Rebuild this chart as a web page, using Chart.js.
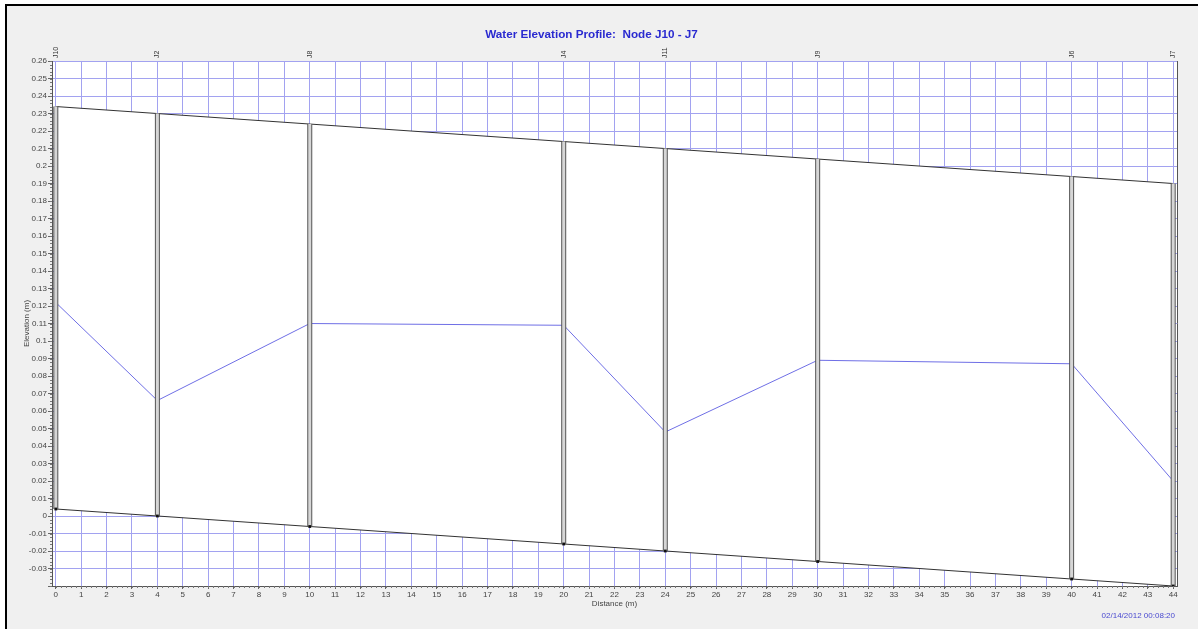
<!DOCTYPE html>
<html>
<head>
<meta charset="utf-8">
<script src="https://cdn.jsdelivr.net/npm/chart.js@4.4.1/dist/chart.umd.min.js"></script>
<style>
  html, body { margin: 0; padding: 0; background: #ffffff; }
  #frame {
    position: absolute; left: 5px; top: 4px; width: 1193px; height: 625px;
    background: #f0f0f0; border-top: 2px solid #000; border-left: 2px solid #000;
    box-sizing: border-box;
  }
  #wrap { position: absolute; left: 0; top: 0; width: 1198px; height: 629px; }
</style>
</head>
<body>
<div id="frame"></div>
<div id="wrap"><canvas id="profile" width="1198" height="629"></canvas></div>
<script>
// Nodes along the profile, from upstream J10 to downstream J7
const nodeNames    = ['J10', 'J2', 'J8', 'J4', 'J11', 'J9', 'J6', 'J7'];
const nodeDistance = [0, 4, 10, 20, 24, 30, 40, 44];            // m
const invertElev   = [0.004, 0.000, -0.006, -0.016, -0.020, -0.026, -0.036, -0.040]; // m
const crownElev    = [0.234, 0.230, 0.224, 0.214, 0.210, 0.204, 0.194, 0.190];       // m
const waterElev    = [0.122, 0.066, 0.110, 0.109, 0.048, 0.089, 0.087, 0.020];       // m

// Axis extents and tick values
const distanceRange  = [-0.15, 44.15];
const elevationRange = [-0.04, 0.26];
const distanceTicks  = [0, 1, 2, 3, 4, 5, 6, 7, 8, 9, 10, 11, 12, 13, 14, 15, 16, 17, 18, 19, 20, 21,
                        22, 23, 24, 25, 26, 27, 28, 29, 30, 31, 32, 33, 34, 35, 36, 37, 38, 39, 40, 41, 42, 43, 44];
const elevationStep  = 0.01;

const titleText = 'Water Elevation Profile:  Node J10 - J7';
const timeStamp = '02/14/2012 00:08:20';

const pts = (ys) => nodeDistance.map((x, i) => ({ x, y: ys[i] }));
// Each node is a vertical manhole segment from invert to crown, separated by gaps
const nodeSegments = nodeDistance.flatMap((x, i) => [
  { x, y: invertElev[i] }, { x, y: crownElev[i] }, { x, y: null }
]);

const gridBlue = '#a2a2f0';
const tickGrey = '#666666';
const axisFont = { family: 'Arial, "Liberation Sans", sans-serif', size: 8 };

const profileDecor = {
  id: 'profileDecor',
  beforeDraw(chart) {
    const { ctx, chartArea: a } = chart;
    ctx.save();
    ctx.fillStyle = '#ffffff';
    ctx.fillRect(a.left, a.top, a.right - a.left, a.bottom - a.top);
    ctx.restore();
  },
  afterDraw(chart) {
    const { ctx, chartArea: a, scales: { x, y } } = chart;
    ctx.save();
    // right-hand frame edge
    ctx.strokeStyle = '#555555';
    ctx.lineWidth = 1;
    ctx.beginPath();
    ctx.moveTo(Math.round(a.right) + 0.5, a.top);
    ctx.lineTo(Math.round(a.right) + 0.5, a.bottom);
    ctx.stroke();

    // minor tick marks along both axes
    ctx.strokeStyle = '#777777';
    ctx.beginPath();
    for (let v = 0; v <= 44.0001; v += 0.2) {
      const px = Math.round(x.getPixelForValue(v)) + 0.5;
      ctx.moveTo(px, a.bottom);
      ctx.lineTo(px, a.bottom + 2);
    }
    for (let v = -0.04; v <= 0.2601; v += 0.002) {
      const py = Math.round(y.getPixelForValue(v)) + 0.5;
      ctx.moveTo(a.left - 2, py);
      ctx.lineTo(a.left, py);
    }
    ctx.stroke();

    // node names above the plot, reading bottom to top
    ctx.fillStyle = '#333333';
    ctx.font = '7px Arial, "Liberation Sans", sans-serif';
    ctx.textAlign = 'left';
    ctx.textBaseline = 'middle';
    nodeNames.forEach((name, i) => {
      const px = x.getPixelForValue(nodeDistance[i]);
      ctx.save();
      ctx.translate(px, a.top - 3);
      ctx.rotate(-Math.PI / 2);
      ctx.fillText(name, 0, 0);
      ctx.restore();
    });

    // snapshot time
    ctx.fillStyle = '#4a4ad0';
    ctx.font = '8px Arial, "Liberation Sans", sans-serif';
    ctx.textAlign = 'right';
    ctx.fillText(timeStamp, a.right - 2, 616);
    ctx.restore();
  }
};

new Chart(document.getElementById('profile'), {
  type: 'scatter',
  data: {
    datasets: [
      { // pipe crown, filled down to the invert
        label: 'Crown', data: pts(crownElev), showLine: true, fill: '+1',
        backgroundColor: '#ffffff', borderColor: '#333333', borderWidth: 1,
        pointRadius: 0, order: 6
      },
      {
        label: 'Invert', data: pts(invertElev), showLine: true, fill: false,
        borderColor: '#333333', borderWidth: 1, pointRadius: 0, order: 5
      },
      {
        label: 'Water Elevation', data: pts(waterElev), showLine: true, fill: false,
        borderColor: '#6f6fe6', borderWidth: 1, pointRadius: 0, order: 4
      },
      { // manhole outline
        label: 'Nodes', data: nodeSegments, showLine: true, spanGaps: false,
        borderColor: '#555555', borderWidth: 5, pointRadius: 0, order: 3
      },
      { // manhole interior
        label: 'Nodes inner', data: nodeSegments, showLine: true, spanGaps: false,
        borderColor: '#d6d6d6', borderWidth: 3, pointRadius: 0, order: 2
      },
      { // node inverts
        label: 'Node invert', data: pts(invertElev), showLine: false,
        pointStyle: 'rect', pointRadius: 2, backgroundColor: '#111111',
        borderColor: '#111111', borderWidth: 0, order: 1
      }
    ]
  },
  options: {
    responsive: false,
    animation: false,
    events: [],
    layout: { padding: { left: 6, right: 21, top: 0, bottom: 0 } },
    plugins: {
      legend: { display: false },
      tooltip: { enabled: false },
      title: {
        display: true, text: titleText, color: '#2a2ad0',
        font: { family: 'Arial, "Liberation Sans", sans-serif', size: 11.7, weight: 'bold' },
        padding: { top: 28, bottom: 19 }
      }
    },
    scales: {
      x: {
        type: 'linear', position: 'bottom',
        min: distanceRange[0], max: distanceRange[1],
        afterBuildTicks(scale) { scale.ticks = distanceTicks.map((v) => ({ value: v })); },
        afterFit(scale) { scale.height = 43; },
        border: { color: '#555555', width: 1 },
        grid: { color: gridBlue, tickColor: tickGrey, tickLength: 3, lineWidth: 1 },
        ticks: {
          autoSkip: false, maxRotation: 0, padding: 1,
          color: '#444444', font: axisFont,
          callback: (v) => String(v)
        },
        title: {
          display: true, text: 'Distance (m)', color: '#444444', font: axisFont,
          padding: { top: 0, bottom: 20 }
        }
      },
      y: {
        type: 'linear', position: 'left',
        min: elevationRange[0], max: elevationRange[1],
        afterFit(scale) { scale.width = 46; },
        border: { color: '#555555', width: 1 },
        grid: { color: gridBlue, tickColor: tickGrey, tickLength: 4, lineWidth: 1 },
        ticks: {
          stepSize: elevationStep, autoSkip: false, padding: 1,
          color: '#444444', font: axisFont,
          callback: (v) => {
            const r = Math.round(v * 100) / 100;
            return r <= elevationRange[0] + 1e-9 ? '' : String(r);
          }
        },
        title: {
          display: true, text: 'Elevation (m)', color: '#444444', font: axisFont,
          padding: { top: 16, bottom: 0 }
        }
      }
    }
  },
  plugins: [profileDecor]
});
</script>
</body>
</html>
